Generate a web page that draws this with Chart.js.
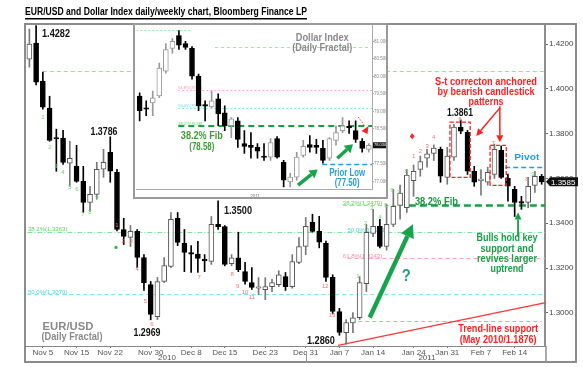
<!DOCTYPE html>
<html>
<head>
<meta charset="utf-8">
<script src="https://cdn.jsdelivr.net/npm/chart.js@4.4.1/dist/chart.umd.min.js"></script>
<style>
  html, body { margin: 0; padding: 0; background: #fff; }
  #wrap { position: relative; width: 583px; height: 367px; overflow: hidden; }
  #main { position: absolute; left: 0; top: 0; }
  #inset { position: absolute; left: 133px; top: 23px; }
</style>
</head>
<body>
<div id="wrap">
  <canvas id="main" width="583" height="367"></canvas>
  <canvas id="inset" width="255" height="176"></canvas>
</div>
<script>
// ---- EUR/USD daily candles (Nov 3 2010 - Feb 18 2011) ----
const eurDays = [
  "Nov 3","Nov 4","Nov 5","Nov 8","Nov 9","Nov 10","Nov 12","Nov 15","Nov 16","Nov 17","Nov 18","Nov 19",
  "Nov 22","Nov 23","Nov 24","Nov 25","Nov 26","Nov 29","Nov 30",
  "Dec 1","Dec 2","Dec 3","Dec 6","Dec 7","Dec 8","Dec 9","Dec 10","Dec 13","Dec 14","Dec 15","Dec 16","Dec 17",
  "Dec 20","Dec 21","Dec 22","Dec 23","Dec 24","Dec 27","Dec 28","Dec 29","Dec 30","Dec 31",
  "Jan 3","Jan 4","Jan 5","Jan 6","Jan 7","Jan 10","Jan 11","Jan 12","Jan 13","Jan 14","Jan 17","Jan 18","Jan 19",
  "Jan 20","Jan 21","Jan 24","Jan 25","Jan 26","Jan 27","Jan 28","Jan 31",
  "Feb 1","Feb 2","Feb 3","Feb 4","Feb 7","Feb 8","Feb 9","Feb 10","Feb 11","Feb 14","Feb 15","Feb 16","Feb 17","Feb 18"
];
const eurOpen = [
  1.4133,1.4204,1.4035,1.3914,1.3780,1.3779,1.3668,1.3654,1.3587,1.3493,1.3529,1.3641,
  1.3717,1.3627,1.3372,1.3337,1.3364,1.3247,1.3126,
  1.2983,1.3140,1.3207,1.3422,1.3310,1.3265,1.3262,1.3236,1.3230,1.3395,1.3385,1.3220,1.3246,
  1.3184,1.3135,1.3110,1.3104,1.3117,1.3126,1.3162,1.3117,1.3225,1.3296,
  1.3404,1.3364,1.3310,1.3158,1.3006,1.2912,1.2955,1.2978,1.3130,1.3355,1.3386,1.3296,1.3395,
  1.3480,1.3470,1.3590,1.3640,1.3690,1.3712,1.3730,1.3605,
  1.3695,1.3829,1.3806,1.3632,1.3590,1.3583,1.3618,1.3726,1.3600,1.3551,1.3493,1.3493,1.3569,1.3609
];
const eurHigh = [
  1.4267,1.4282,1.4075,1.3967,1.3820,1.3815,1.3766,1.3748,1.3654,1.3565,1.3672,1.3730,
  1.3786,1.3641,1.3422,1.3390,1.3372,1.3260,1.3140,
  1.3158,1.3247,1.3448,1.3448,1.3372,1.3300,1.3319,1.3260,1.3430,1.3500,1.3390,1.3260,1.3360,
  1.3225,1.3202,1.3157,1.3157,1.3150,1.3188,1.3180,1.3260,1.3336,1.3426,
  1.3440,1.3431,1.3320,1.3170,1.3020,1.2970,1.3001,1.3162,1.3395,1.3462,1.3417,1.3484,1.3551,
  1.3570,1.3640,1.3660,1.3700,1.3730,1.3750,1.3740,1.3739,
  1.3842,1.3861,1.3815,1.3654,1.3640,1.3650,1.3753,1.3745,1.3620,1.3565,1.3520,1.3605,1.3632,1.3618
];
const eurLow = [
  1.4097,1.4017,1.3909,1.3766,1.3632,1.3663,1.3565,1.3583,1.3448,1.3453,1.3507,1.3605,
  1.3583,1.3366,1.3305,1.3296,1.3202,1.3100,1.2969,
  1.2970,1.3135,1.3202,1.3300,1.3184,1.3180,1.3180,1.3184,1.3216,1.3372,1.3210,1.3210,1.3184,
  1.3128,1.3104,1.3082,1.3059,1.3095,1.3117,1.3100,1.3110,1.3220,1.3260,
  1.3360,1.3290,1.3140,1.2995,1.2900,1.2860,1.2912,1.2970,1.3095,1.3340,1.3290,1.3280,1.3385,
  1.3418,1.3448,1.3520,1.3610,1.3650,1.3680,1.3583,1.3574,
  1.3680,1.3800,1.3618,1.3565,1.3525,1.3570,1.3600,1.3600,1.3498,1.3430,1.3462,1.3470,1.3538,1.3574
];
const eurClose = [
  1.4200,1.4030,1.3918,1.3770,1.3776,1.3672,1.3690,1.3587,1.3493,1.3529,1.3641,1.3672,
  1.3632,1.3372,1.3341,1.3364,1.3247,1.3135,1.2993,
  1.3140,1.3211,1.3417,1.3314,1.3270,1.3262,1.3243,1.3232,1.3395,1.3385,1.3216,1.3246,1.3193,
  1.3140,1.3113,1.3112,1.3117,1.3135,1.3170,1.3117,1.3229,1.3296,1.3386,
  1.3364,1.3315,1.3158,1.3006,1.2913,1.2957,1.2978,1.3135,1.3359,1.3386,1.3296,1.3395,1.3475,
  1.3535,1.3615,1.3632,1.3675,1.3710,1.3735,1.3610,1.3700,
  1.3829,1.3811,1.3632,1.3583,1.3595,1.3627,1.3730,1.3605,1.3565,1.3493,1.3490,1.3565,1.3609,1.3585
];
const eurTickDays = ["Nov 5","Nov 15","Nov 22","Nov 30","Dec 8","Dec 15","Dec 23","Dec 31","Jan 7","Jan 14","Jan 24","Jan 31","Feb 7","Feb 14"];
const eurYTicks = [1.30, 1.32, 1.34, 1.36, 1.38, 1.40, 1.42];

// ---- Dollar Index daily candles (Dec 31 2010 - Feb 18 2011) ----
const dxyDays = [
  "12/31","1/3","1/4","1/5","1/6","1/7","1/10","1/11","1/12","1/13","1/14","1/17","1/18","1/19","1/20","1/21",
  "1/24","1/25","1/26","1/27","1/28","1/31","2/1","2/2","2/3","2/4","2/7","2/8","2/9","2/10","2/11",
  "2/14","2/15","2/16","2/17","2/18"
];
const dxyOpen  = [79.44,79.08,79.24,79.44,80.15,80.80,81.17,80.94,80.80,80.01,79.17,79.13,79.36,78.96,78.59,78.73,
                  78.08,78.03,77.97,77.70,77.69,78.22,77.54,76.98,77.12,77.74,78.05,78.03,77.94,77.66,78.17,
                  78.45,78.55,78.45,78.14,77.91];
const dxyHigh  = [79.53,79.30,79.58,80.38,80.94,81.08,81.31,81.00,80.85,80.07,79.30,79.58,79.50,79.16,78.82,78.82,
                  78.45,78.39,78.08,78.08,78.22,78.28,77.60,77.23,77.83,78.17,78.31,78.20,78.17,78.25,78.59,
                  78.82,78.73,78.73,78.22,78.08];
const dxyLow   = [78.73,78.88,78.88,79.39,80.09,80.66,80.77,80.77,79.92,79.02,78.73,79.10,78.59,78.45,78.25,77.97,
                  77.80,77.66,77.66,77.60,77.60,77.66,76.84,76.84,77.03,77.69,77.83,77.80,77.52,77.60,78.03,
                  78.39,78.37,78.11,77.83,77.83];
const dxyClose = [79.02,79.06,79.39,80.24,80.77,81.00,80.89,80.83,80.01,79.16,79.15,79.30,78.93,78.59,78.79,78.20,
                  78.00,77.97,77.86,77.68,78.11,77.69,77.03,77.12,77.69,78.00,77.97,77.97,77.60,78.22,78.39,
                  78.59,78.53,78.20,77.94,78.03];
const dxyTickDays = ["12/31","1/5","1/6","1/7","1/12","1/13","1/14","1/19","1/20","1/24","1/26","1/27","1/31","2/2","2/3","2/7","2/9","2/10","2/14","2/16","2/17","2/18"];
const dxyTickText = ["12/31","5","6","1/7","12","13","1/14","19","20","1/24","26","27","1/31","2","3","2/7","9","10","2/14","16","17","18"];
const dxyYTicks = [77.0, 77.5, 78.0, 78.5, 79.0, 79.5, 80.0, 80.5, 81.0];

// levels and counts
const eurFib = { top: 1.4079, a382: 1.3363, a500: 1.3082, b382: 1.3480, b500: 1.3361, b618: 1.3243, low: 1.2965, pivot: 1.3650 };
const eurTrend = [[45.8, 1.2855], [76.6, 1.3046]];
const dxyFib = { top1: 81.34, top2: 80.83, f618: 79.61, f500: 79.10, f382: 78.58, prior: 77.50 };
const greenCounts = [[2.0,1.3873,"1"],[3.06,1.3739,"2"],[3.95,1.3654,"3"],[4.99,1.3627,"4"],[6.02,1.3560,"5"],[7.06,1.3551,"6"],
  [7.95,1.3439,"7"],[8.99,1.3448,"8"],[10.03,1.3516,"9"],[48.75,1.3162,"1"],[49.9,1.3399,"2"],[50.8,1.3466,"3"],
  [52.0,1.3426,"4"],[52.9,1.3480,"5"],[53.8,1.3547,"6"],[54.8,1.3538,"7"],[55.9,1.3632,"8"],[74.7,1.3618,"9"]];
const redCounts = [[13.0,1.3390,"1"],[13.9,1.3319,"2"],[15.1,1.3319,"3"],[16.0,1.3193,"4"],[17.2,1.3050,"5"],[18.2,1.2947,"6"],
  [25.2,1.3158,"7"],[30.1,1.3171,"8"],[30.9,1.3117,"9"],[32.0,1.3090,"10"],[33.0,1.3068,"11"],[43.9,1.3117,"12"],
  [44.9,1.2988,"13"],[57.0,1.3700,"1"],[58.0,1.3722,"2"],[59.0,1.3745,"3"],[60.0,1.3785,"4"],[63.9,1.3866,"6"],
  [68.8,1.3757,"7"],[73.8,1.3596,"8"]];

const FONT = '"Liberation Sans", Arial, sans-serif';

function txt(c, s, x, y, size, color, w, align) {
  c.save();
  c.font = "bold " + size + "px " + FONT;
  c.fillStyle = color;
  c.textBaseline = "middle";
  c.textAlign = align || "center";
  const m = c.measureText(s).width;
  const sx = w ? w / m : 1;
  c.translate(x, y);
  c.scale(sx, 1);
  c.fillText(s, 0, 0);
  c.restore();
}
function plain(c, s, x, y, size, color, align) {
  c.save();
  c.font = size + "px " + FONT;
  c.fillStyle = color;
  c.textBaseline = "middle";
  c.textAlign = align || "left";
  c.fillText(s, x, y);
  c.restore();
}
function hline(c, x1, x2, y, color, w, dash) {
  c.save();
  c.strokeStyle = color; c.lineWidth = w; c.setLineDash(dash || []);
  const yy = Math.round(y) + (w % 2 ? 0.5 : 0);
  c.beginPath(); c.moveTo(x1, yy); c.lineTo(x2, yy); c.stroke();
  c.restore();
}
function arrow(c, x1, y1, x2, y2, color, w, hl, hw) {
  const a = Math.atan2(y2 - y1, x2 - x1);
  const bx = x2 - hl * Math.cos(a), by = y2 - hl * Math.sin(a);
  c.save();
  c.strokeStyle = color; c.fillStyle = color; c.lineWidth = w;
  c.beginPath(); c.moveTo(x1, y1); c.lineTo(bx, by); c.stroke();
  c.beginPath(); c.moveTo(x2, y2);
  c.lineTo(bx + hw * Math.sin(a), by - hw * Math.cos(a));
  c.lineTo(bx - hw * Math.sin(a), by + hw * Math.cos(a));
  c.closePath(); c.fill();
  c.restore();
}
function dashRect(c, x1, y1, x2, y2, color) {
  c.save();
  c.strokeStyle = color; c.lineWidth = 1.3; c.setLineDash([4, 2]);
  c.strokeRect(x1, y1, x2 - x1, y2 - y1);
  c.restore();
}

function candleSets(days, o, h, l, cl, upBorder, wickUp) {
  const up = cl.map((v, i) => v >= o[i]);
  return [
    {
      data: days.map((d, i) => [l[i], h[i]]),
      backgroundColor: up.map(u => u ? wickUp : "#000"),
      barThickness: 1, grouped: false, order: 2
    },
    {
      data: days.map((d, i) => [o[i], cl[i]]),
      backgroundColor: up.map(u => u ? "#fff" : "#000"),
      borderColor: up.map(u => u ? upBorder : "#000"),
      borderWidth: 1, borderSkipped: false, minBarLength: 1.5,
      barThickness: 5, grouped: false, order: 1
    }
  ];
}

const mainDecor = {
  id: "mainDecor",
  beforeDraw(chart) {
    const c = chart.ctx;
    c.save(); c.fillStyle = "#fff"; c.fillRect(0, 0, chart.width, chart.height); c.restore();
  },
  beforeDatasetsDraw(chart) {
    const c = chart.ctx, a = chart.chartArea;
    const X = v => chart.scales.x.getPixelForValue(v), Y = v => chart.scales.y.getPixelForValue(v);
    const end = X(76.5);
    c.save();
    c.beginPath(); c.rect(a.left, a.top, a.right - a.left, a.bottom - a.top); c.clip();
    hline(c, X(2), end, Y(eurFib.top), "#8fe88f", 1, [4, 3]);
    hline(c, X(-0.3), end, Y(eurFib.a382), "#7fe3a0", 1, [5, 2, 1, 2]);
    hline(c, X(-0.3), end, Y(eurFib.a500), "#7fe6ea", 1, [4, 3]);
    hline(c, X(46.5), X(56.3), Y(eurFib.b382), "#8fe88f", 1, [4, 3]);
    hline(c, X(56.3), end, Y(eurFib.b382), "#16a041", 2.5, [7, 4]);
    hline(c, X(47.2), end, Y(eurFib.b618), "#ffa3b8", 1, [4, 3]);
    hline(c, X(48.8), X(76), Y(eurFib.low), "#ff9aa8", 1, [4, 3]);
    hline(c, X(70.6), X(76.2), Y(eurFib.pivot), "#1e9ee6", 1.5, [5, 3]);
    plain(c, "38.2%(1.3363)", X(-0.2), Y(eurFib.a382) - 2, 6, "#5fd35f");
    plain(c, "50.0%(1.3079)", X(-0.2), Y(eurFib.a500) - 2, 6, "#4fd6dd");
    plain(c, "38.2%(1.3479)", X(46.5), Y(eurFib.b382) - 2, 6, "#5fd35f");
    plain(c, "50.0%(1.3361)", X(47.2), Y(eurFib.b500) - 2, 6, "#4fd6dd");
    plain(c, "61.8%(1.3243)", X(46.5), Y(eurFib.b618) - 2, 6, "#ff8aa5");
    c.restore();
  },
  afterDatasetsDraw(chart) {
    const c = chart.ctx, a = chart.chartArea;
    const X = v => chart.scales.x.getPixelForValue(v), Y = v => chart.scales.y.getPixelForValue(v);
    // trend line
    c.save();
    c.strokeStyle = "#ff3434"; c.lineWidth = 1.2;
    c.beginPath(); c.moveTo(X(eurTrend[0][0]), Y(eurTrend[0][1])); c.lineTo(X(eurTrend[1][0]), Y(eurTrend[1][1])); c.stroke();
    c.restore();
    // count digits
    greenCounts.forEach(g => plain(c, g[2], X(g[0]), Y(g[1]), 6, "#66d866", "center"));
    redCounts.forEach(r => plain(c, r[2], X(r[0]), Y(r[1]), 6, "#ff6f6f", "center"));
    // fractal markers
    c.save();
    c.fillStyle = "#ff2a2a";
    const rx = X(56.8), ry = Y(1.3788);
    c.beginPath(); c.moveTo(rx, ry - 3); c.lineTo(rx + 2.5, ry); c.lineTo(rx, ry + 3); c.lineTo(rx - 2.5, ry); c.closePath(); c.fill();
    c.fillStyle = "#22c040";
    const gx = X(12.85), gy = Y(1.3292);
    c.beginPath(); c.arc(gx, gy, 1.6, 0, Math.PI * 2); c.fill();
    c.restore();
    // price labels
    txt(c, "1.4282", X(3.95), Y(1.42447), 10.5, "#111", 28);
    txt(c, "1.3786", X(11.07), Y(1.38063), 10.5, "#111", 27);
    txt(c, "1.3500", X(30.95), Y(1.34528), 10.5, "#111", 28);
    txt(c, "1.2969", X(17.45), Y(1.29115), 10.5, "#111", 27);
    txt(c, "1.2860", X(43.26), Y(1.28757), 10.5, "#111", 28);
    txt(c, "1.3861", X(63.88), Y(1.38913), 10.5, "#111", 26);
    txt(c, "EUR/USD", X(5.73), Y(1.29383), 11, "#8a8a8a", 51);
    txt(c, "(Daily Fractal)", X(6.32), Y(1.28936), 11, "#8a8a8a", 61);
    // correction note
    const red = "#ff1f1f";
    txt(c, "S-t correcton anchored", X(67.75), Y(1.4030), 10.5, red, 102);
    txt(c, "by bearish candlestick", X(67.75), Y(1.39853), 10.5, red, 97);
    txt(c, "patterns", X(67.75), Y(1.39405), 10.5, red, 35);
    dashRect(c, X(62.4), Y(1.3851), X(65.4), Y(1.3605), red);
    dashRect(c, X(68.35), Y(1.3748), X(70.75), Y(1.3569), red);
    arrow(c, X(69.8), Y(1.3915), X(66.3), Y(1.3790), red, 1.5, 7, 3.5);
    arrow(c, X(69.8), Y(1.3922), X(69.8), Y(1.3762), red, 1.5, 7, 3.5);
    // fib label, pivot
    txt(c, "38.2% Fib", X(57.2), Y(1.34931), 10.5, "#17973f", 43, "left");
    txt(c, "Pivot", X(73.8), Y(1.36944), 9.5, "#1e9ee6", 25);
    // rally arrow and question mark
    arrow(c, X(50.5), Y(1.2979), X(56.9), Y(1.3395), "#17a34a", 4.5, 13, 7);
    txt(c, "?", X(55.9), Y(1.3162), 17, "#1f9c86", 9);
    // bulls note
    const grn = "#16a046";
    arrow(c, X(72.5), Y(1.3341), X(72.5), Y(1.3448), grn, 1.8, 7, 3.5);
    txt(c, "Bulls hold key", X(70.86), Y(1.3332), 10.5, grn, 61);
    txt(c, "support and", X(70.86), Y(1.32828), 10.5, grn, 53);
    txt(c, "revives larger", X(70.86), Y(1.32381), 10.5, grn, 60);
    txt(c, "uptrend", X(70.86), Y(1.31933), 10.5, grn, 33);
    // trend-line note
    txt(c, "Trend-line support", X(69.55), Y(1.29294), 10.5, red, 80);
    txt(c, "(May 2010/1.1876)", X(69.55), Y(1.28802), 10.5, red, 77);
  },
  afterDraw(chart) {
    const c = chart.ctx, a = chart.chartArea;
    const Y = v => chart.scales.y.getPixelForValue(v);
    // title
    c.save();
    c.font = "bold 10.5px " + FONT;
    const tw = c.measureText("EUR/USD and Dollar Index daily/weekly chart, Bloomberg Finance LP").width;
    c.translate(25, 12.5); c.scale(282 / tw, 1);
    c.fillStyle = "#000"; c.textBaseline = "middle";
    c.fillText("EUR/USD and Dollar Index daily/weekly chart, Bloomberg Finance LP", 0, 0);
    c.restore();
    c.fillStyle = "#000"; c.fillRect(25, 18, 282, 1.5);
    // frame
    c.save();
    c.strokeStyle = "#8c8c8c"; c.lineWidth = 2;
    c.strokeRect(25, 24, 551, 338);
    c.lineWidth = 1.5;
    c.beginPath(); c.moveTo(a.right + 1, a.bottom); c.lineTo(a.right + 1, 362); c.stroke();
    c.lineWidth = 1; c.strokeStyle = "#999";
    c.beginPath(); c.moveTo(306.5, a.bottom + 5); c.lineTo(306.5, 362); c.stroke();
    c.restore();
    plain(c, "2010", 167, 357.5, 8, "#555", "center");
    plain(c, "2011", 427, 357.5, 8, "#555", "center");
    // last price box
    const last = eurClose[eurClose.length - 1];
    const py = Y(last);
    c.save();
    c.fillStyle = "#111";
    c.beginPath(); c.moveTo(a.right + 1, py); c.lineTo(a.right + 5, py - 4.5); c.lineTo(578, py - 4.5);
    c.lineTo(578, py + 4.5); c.lineTo(a.right + 5, py + 4.5); c.closePath(); c.fill();
    c.restore();
    plain(c, last.toFixed(4), a.right + 6, py + 0.5, 8, "#fff");
  }
};

const insetDecor = {
  id: "insetDecor",
  beforeDraw(chart) {
    const c = chart.ctx;
    c.save(); c.fillStyle = "#fff"; c.fillRect(0, 0, chart.width, chart.height); c.restore();
  },
  beforeDatasetsDraw(chart) {
    const c = chart.ctx, a = chart.chartArea;
    const X = v => chart.scales.x.getPixelForValue(v), Y = v => chart.scales.y.getPixelForValue(v);
    const end = X(35.5);
    c.save();
    c.beginPath(); c.rect(a.left, a.top, a.right - a.left, a.bottom - a.top); c.clip();
    hline(c, X(-0.5), X(8), Y(dxyFib.top1), "#9be89b", 1, [2, 2]);
    hline(c, X(11.5), end, Y(dxyFib.top2), "#9be89b", 1, [3, 3]);
    hline(c, X(5.9), end, Y(dxyFib.f618), "#ffb0c0", 1, [2, 2]);
    hline(c, X(5.9), end, Y(dxyFib.f500), "#8ee6ec", 1, [2, 2]);
    hline(c, X(5.9), end, Y(dxyFib.f382), "#18a040", 2, [6, 4]);
    hline(c, X(27.9), end, Y(dxyFib.prior), "#1e9ee6", 1.5, [5, 3]);
    plain(c, "61.8%(79.61)", X(5.9), Y(dxyFib.f618) - 2, 4, "#ff90a8");
    plain(c, "50.0%(79.10)", X(5.9), Y(dxyFib.f500) - 2, 4, "#60d8e0");
    plain(c, "38.2%(78.58)", X(5.9), Y(dxyFib.f382) - 2.5, 4, "#60d060");
    c.restore();
  },
  afterDatasetsDraw(chart) {
    const c = chart.ctx, a = chart.chartArea;
    const X = v => chart.scales.x.getPixelForValue(v), Y = v => chart.scales.y.getPixelForValue(v);
    txt(c, "Dollar Index", X(27.9), Y(81.11), 11, "#8a8a8a", 53);
    txt(c, "(Daily Fractal)", X(27.9), Y(80.80), 11, "#8a8a8a", 60);
    txt(c, "38.2% Fib", X(9.5), Y(78.28), 10.5, "#3a9e34", 42);
    txt(c, "(78.58)", X(9.5), Y(77.97), 10.5, "#3a9e34", 25);
    txt(c, "Prior Low", X(31.7), Y(77.23), 10.5, "#2a9ce0", 36);
    txt(c, "(77.50)", X(31.7), Y(76.95), 10.5, "#2a9ce0", 25);
    arrow(c, X(24.2), Y(76.89), X(27.2), Y(77.34), "#17a34a", 3.5, 8, 5);
    arrow(c, X(30.2), Y(77.66), X(32.6), Y(78.06), "#17a34a", 3.5, 8, 5);
    // red dotted pointer
    c.save();
    c.strokeStyle = "#ff3030"; c.lineWidth = 1; c.setLineDash([1.5, 1.5]);
    c.beginPath(); c.moveTo(X(33.4), Y(78.84)); c.lineTo(X(34.4), Y(78.58)); c.stroke();
    c.setLineDash([]); c.fillStyle = "#ff2020";
    const tx = X(33.9), ty = Y(78.44);
    c.beginPath(); c.moveTo(tx, ty); c.lineTo(tx + 7, ty - 5); c.lineTo(tx + 6, ty + 3); c.closePath(); c.fill();
    c.restore();
    // last value tag
    const last = dxyClose[dxyClose.length - 1];
    const py = Y(last);
    c.fillStyle = "#111";
    c.fillRect(a.right + 1, py - 3, 14, 6);
    plain(c, last.toFixed(3), a.right + 2, py, 4, "#fff");
  },
  afterDraw(chart) {
    const c = chart.ctx;
    plain(c, "2011", 122, 173.5, 4.5, "#777", "center");
    c.save();
    c.strokeStyle = "#9a9a9a"; c.lineWidth = 2;
    c.strokeRect(1, 1, chart.width - 2, chart.height - 2);
    c.restore();
  }
};

new Chart(document.getElementById("main"), {
  type: "bar",
  data: { labels: eurDays, datasets: candleSets(eurDays, eurOpen, eurHigh, eurLow, eurClose, "#555", "#777") },
  options: {
    responsive: false,
    animation: false,
    layout: { padding: { left: 26, top: 25, right: 8, bottom: 5 } },
    plugins: { legend: { display: false }, tooltip: { enabled: false } },
    scales: {
      x: {
        offset: true,
        grid: {
          offset: false, drawOnChartArea: false, tickLength: 2,
          color: ctx => eurTickDays.includes(eurDays[ctx.index]) ? "#777" : "rgba(0,0,0,0)"
        },
        border: { color: "#888", width: 1 },
        ticks: {
          autoSkip: false, maxRotation: 0, minRotation: 0, padding: 0,
          font: { size: 8, family: FONT }, color: "#555",
          callback: (v, i) => eurTickDays.includes(eurDays[i]) ? eurDays[i] : ""
        },
        afterFit: s => { s.height = 16; }
      },
      y: {
        position: "right",
        min: 1.2852, max: 1.4285,
        afterBuildTicks: s => { s.ticks = eurYTicks.map(v => ({ value: v })); },
        grid: { drawOnChartArea: false, tickLength: 3, color: "#666" },
        border: { color: "#8c8c8c", width: 2 },
        ticks: { font: { size: 8, family: FONT }, color: "#444", padding: 1, callback: v => v.toFixed(4) },
        afterFit: s => { s.width = 30; }
      }
    }
  },
  plugins: [mainDecor]
});

new Chart(document.getElementById("inset"), {
  type: "bar",
  data: { labels: dxyDays, datasets: candleSets(dxyDays, dxyOpen, dxyHigh, dxyLow, dxyClose, "#999", "#999") },
  options: {
    responsive: false,
    animation: false,
    layout: { padding: { left: 2, top: 1, right: 0, bottom: 0 } },
    plugins: { legend: { display: false }, tooltip: { enabled: false } },
    scales: {
      x: {
        offset: true,
        grid: { display: false },
        border: { color: "#aaa", width: 1 },
        ticks: {
          autoSkip: false, maxRotation: 0, minRotation: 0, padding: 1,
          font: { size: 4.5, family: FONT }, color: "#888",
          callback: (v, i) => { const k = dxyTickDays.indexOf(dxyDays[i]); return k < 0 ? "" : dxyTickText[k]; }
        },
        afterFit: s => { s.height = 10; }
      },
      y: {
        position: "right",
        min: 76.78, max: 81.45,
        afterBuildTicks: s => { s.ticks = dxyYTicks.map(v => ({ value: v })); },
        grid: { drawOnChartArea: false, tickLength: 2, color: "#aaa" },
        border: { color: "#aaa", width: 1 },
        ticks: { font: { size: 4.5, family: FONT }, color: "#888", padding: 0, callback: v => v.toFixed(3) },
        afterFit: s => { s.width = 16; }
      }
    }
  },
  plugins: [insetDecor]
});
</script>
</body>
</html>
